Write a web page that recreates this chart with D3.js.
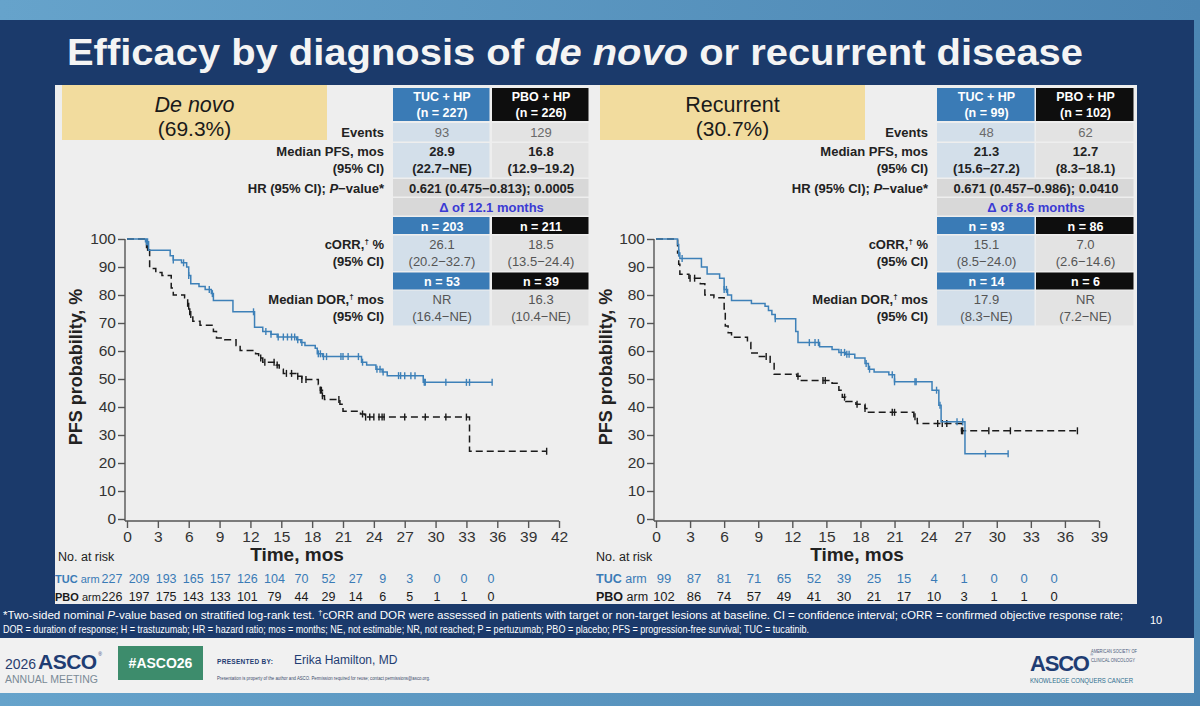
<!DOCTYPE html>
<html><head><meta charset="utf-8">
<script src="https://cdn.jsdelivr.net/npm/d3@7"></script>
<style>
body{margin:0;background:#fff;}
svg{display:block;font-family:"Liberation Sans",Arial,Helvetica,sans-serif;}
</style>
</head><body>
<svg id="c" width="1200" height="706"></svg>
<script>
// ---------------- DATA ----------------
const groupNames = ["De novo", "Recurrent"];
const groupShares = ["(69.3%)", "(30.7%)"];
const armLabels = ["TUC + HP", "PBO + HP"];
const armN = [["(n = 227)", "(n = 226)"], ["(n = 99)", "(n = 102)"]];
const events = [["93", "129"], ["48", "62"]];
const medianPFS = [["28.9", "16.8"], ["21.3", "12.7"]];
const medianPFSci = [["(22.7\u2212NE)", "(12.9\u221219.2)"], ["(15.6\u221227.2)", "(8.3\u221218.1)"]];
const hrText = ["0.621 (0.475\u22120.813); 0.0005", "0.671 (0.457\u22120.986); 0.0410"];
const deltaText = ["\u0394 of 12.1 months", "\u0394 of 8.6 months"];
const orrN = [["n = 203", "n = 211"], ["n = 93", "n = 86"]];
const corrVal = [["26.1", "18.5"], ["15.1", "7.0"]];
const corrCI = [["(20.2\u221232.7)", "(13.5\u221224.4)"], ["(8.5\u221224.0)", "(2.6\u221214.6)"]];
const dorN = [["n = 53", "n = 39"], ["n = 14", "n = 6"]];
const dorVal = [["NR", "16.3"], ["17.9", "NR"]];
const dorCI = [["(16.4\u2212NE)", "(10.4\u2212NE)"], ["(8.3\u2212NE)", "(7.2\u2212NE)"]];

const yTicks = [0, 10, 20, 30, 40, 50, 60, 70, 80, 90, 100];
const xTicksDeNovo = [0, 3, 6, 9, 12, 15, 18, 21, 24, 27, 30, 33, 36, 39, 42];
const xTicksRecurrent = [0, 3, 6, 9, 12, 15, 18, 21, 24, 27, 30, 33, 36, 39];

const riskDeNovoTUC = [227, 209, 193, 165, 157, 126, 104, 70, 52, 27, 9, 3, 0, 0, 0];
const riskDeNovoPBO = [226, 197, 175, 143, 133, 101, 79, 44, 29, 14, 6, 5, 1, 1, 0];
const riskRecTUC = [99, 87, 81, 71, 65, 52, 39, 25, 15, 4, 1, 0, 0, 0];
const riskRecPBO = [102, 86, 74, 57, 49, 41, 30, 21, 17, 10, 3, 1, 1, 0];

// KM steps: [month, PFS %]
const kmDeNovoTUC = [[0,100],[1.8,99],[2.1,96],[4.2,94],[4.5,92.5],[5.3,91.5],[5.8,90],[6.0,87],[6.2,84],[7.0,83],[7.6,82],[8.2,80.5],[8.4,78],[10.3,74],[12.4,68.5],[13.2,67],[14.0,66],[14.6,65],[16.5,64],[16.9,63],[17.3,62],[18.3,61],[18.5,59],[19.0,58],[22.8,56],[23.3,55],[24.2,53.5],[24.8,52.5],[25.3,51.2],[28.8,48.8]];
const kmDeNovoTUCEnd = 35.5;
const kmDeNovoPBO = [[0,100],[1.9,97],[2.2,89.5],[2.8,88],[3.4,87],[4.3,82.5],[4.5,80],[5.6,79],[5.9,76],[6.1,73],[6.4,70.6],[7.1,69.2],[8.4,67],[8.7,64.6],[9.5,64],[10.6,62],[11.0,60.2],[12.5,59],[12.8,57.5],[13.2,56],[14.5,55],[14.8,53.5],[15.2,52],[16.5,51],[17.0,49.8],[18.6,48],[18.8,46],[19.0,44],[19.2,42.7],[20.7,41],[21.0,38.5],[22.7,37.5],[23.1,36.4],[33.3,24.2]];
const kmDeNovoPBOEnd = 40.8;
const kmRecTUC = [[0,100],[1.9,98],[2.0,95],[2.1,93],[4.0,90],[4.5,87.5],[5.6,86],[6.0,82],[6.3,80],[6.65,78],[8.4,77],[9.6,76],[9.9,74.5],[10.2,73],[10.5,71.5],[12.3,67],[12.5,63],[14.4,61.5],[15.5,60.5],[16.1,59.5],[16.7,58.8],[17.5,57.5],[18.4,55.5],[18.7,53.5],[19.2,52.5],[20.5,51.5],[21.0,49],[24.3,46],[24.9,40.6],[25.1,34.7],[27.2,23.3]];
const kmRecTUCEnd = 31.0;
const kmRecPBO = [[0,100],[1.9,95],[2.0,91],[2.1,87.4],[2.9,86],[3.9,84],[4.3,80],[5.1,79],[6.0,75],[6.1,68.9],[6.35,66.5],[6.65,64.9],[8.05,63],[8.35,59.3],[9.1,58],[10.05,56],[10.4,51.7],[12.4,51],[12.7,49.5],[15.5,48.5],[16.1,46],[16.4,43.5],[16.7,42],[17.6,41],[18.4,39.5],[18.7,38.1],[22.7,36.5],[23.0,34.1],[26.9,31.5]];
const kmRecPBOEnd = 37.1;

// censor times (months)
const censDeNovoTUC = [1.9,2.0,4.5,5.5,6.0,8.0,8.3,12.3,13.5,14.0,14.7,15.2,15.6,16.0,16.3,16.6,17.0,18.6,18.8,19.1,19.4,20.8,21.0,21.5,22.5,22.9,24.3,24.6,24.9,26.4,26.6,27.0,27.6,28.0,28.9,29.0,31.0,33.0,33.3,35.5];
const censDeNovoPBO = [2.0,6.0,6.2,13.0,13.4,14.3,14.6,15.5,16.0,16.6,17.0,17.4,18.8,18.9,19.0,20.6,22.9,23.2,23.6,24.0,24.5,24.8,25.0,27.0,29.0,31.0,33.0,40.8];
const censRecTUC = [2.0,2.3,6.0,6.2,10.5,13.5,14.0,14.3,16.3,16.6,16.8,17.0,18.5,18.8,20.8,21.0,22.8,22.9,24.7,25.0,26.5,27.0,29.0,31.0];
const censRecPBO = [3.0,3.4,9.7,12.5,14.7,14.9,16.6,17.7,18.4,20.8,21.0,22.8,24.8,25.2,25.6,26.9,27.0,29.3,31.2,37.1];

const footLine1 = ["*Two-sided nominal ", "P", "-value based on stratified log-rank test. ", "\u2020", "cORR and DOR were assessed in patients with target or non-target lesions at baseline. CI = confidence interval; cORR = confirmed objective response rate;"];
const footLine2 = "DOR = duration of response; H = trastuzumab; HR = hazard ratio; mos = months; NE, not estimable; NR, not reached; P = pertuzumab; PBO = placebo; PFS = progression-free survival; TUC = tucatinib.";

// ---------------- STYLE ----------------
const C = {
  navy: "#1b3a6b", panel: "#eeeeee", tan: "#f2dc9e",
  blueHead: "#3a7bb6", blackHead: "#0e0e0e",
  tucCell: "#d3dfea", pboCell: "#e3e3e3", spanCell: "#d8d8d8",
  delta: "#3b3bd4", tucLine: "#3d80b8", pboLine: "#1a1a1a", text: "#222"
};

const svg = d3.select("#c");
const defs = svg.append("defs");
const g1 = defs.append("linearGradient").attr("id", "bg").attr("x1", 0).attr("x2", 1).attr("y1", 0).attr("y2", 0);
g1.append("stop").attr("offset", 0).attr("stop-color", "#66a3cb");
g1.append("stop").attr("offset", 1).attr("stop-color", "#4c86b3");
svg.append("rect").attr("width", 1200).attr("height", 706).attr("fill", "url(#bg)");
svg.append("rect").attr("x", 0).attr("y", 20).attr("width", 1194).attr("height", 673).attr("fill", C.navy);
svg.append("rect").attr("x", 0).attr("y", 638).attr("width", 1194).attr("height", 55).attr("fill", "#f1f1f1");

// title
const title = svg.append("text").attr("x", 67).attr("y", 65).attr("fill", "#f4f4f4")
  .attr("font-size", 36).attr("font-weight", "bold")
  .attr("textLength", 1016).attr("lengthAdjust", "spacingAndGlyphs");
title.append("tspan").text("Efficacy by diagnosis of ");
title.append("tspan").attr("font-style", "italic").text("de novo");
title.append("tspan").text(" or recurrent disease");

// content panel
svg.append("rect").attr("x", 55).attr("y", 85).attr("width", 1082).attr("height", 519).attr("fill", C.panel);

const panels = [
  { tanX: 62, tanW: 265, labelR: 384, c: [393, 492], colW: 98, xr: [127, 559], xTicks: xTicksDeNovo,
    km: [kmDeNovoTUC, kmDeNovoPBO], kmEnd: [kmDeNovoTUCEnd, kmDeNovoPBOEnd], cens: [censDeNovoTUC, censDeNovoPBO],
    risk: [riskDeNovoTUC, riskDeNovoPBO], riskR: [112, 491], riskLabelX: 55, labelSize: 11, noRiskX: 58, riskSize: 12.5, yLabX: 82, timeX: 297, italic: true },
  { tanX: 600, tanW: 265, labelR: 928, c: [937, 1036], colW: 99, xr: [656, 1099], xTicks: xTicksRecurrent,
    km: [kmRecTUC, kmRecPBO], kmEnd: [kmRecTUCEnd, kmRecPBOEnd], cens: [censRecTUC, censRecPBO],
    risk: [riskRecTUC, riskRecPBO], riskR: [664, 1054], riskLabelX: 596, labelSize: 12.5, noRiskX: 596, riskSize: 13, yLabX: 612, timeX: 857, italic: false }
];

function txt(sel, x, y, s, o = {}) {
  return sel.append("text").attr("x", x).attr("y", y).text(s)
    .attr("font-size", o.size || 13).attr("font-weight", o.weight || "normal")
    .attr("font-style", o.style || "normal").attr("fill", o.fill || C.text)
    .attr("text-anchor", o.anchor || "middle");
}
function survAt(steps, t) { let v = 100; for (const [tt, s] of steps) if (tt <= t) v = s; return v; }

panels.forEach((P, p) => {
  const g = svg.append("g");
  g.append("rect").attr("x", P.tanX).attr("y", 85).attr("width", P.tanW).attr("height", 55).attr("fill", C.tan);
  const tcx = P.tanX + P.tanW / 2;
  txt(g, tcx, 112, groupNames[p], { size: 21.5, style: P.italic ? "italic" : "normal", fill: "#1a1a1a" });
  txt(g, tcx, 136, groupShares[p], { size: 21, fill: "#1a1a1a" });

  const cx = [P.c[0] + P.colW / 2, P.c[1] + P.colW / 2];
  const cell = (col, y, h, fill) => g.append("rect").attr("x", P.c[col]).attr("y", y).attr("width", P.colW - 1.5).attr("height", h).attr("fill", fill);
  const span = (y, h, fill) => g.append("rect").attr("x", P.c[0]).attr("y", y).attr("width", P.c[1] + P.colW - 1.5 - P.c[0]).attr("height", h).attr("fill", fill);
  const headFill = [C.blueHead, C.blackHead];
  const cellFill = [C.tucCell, C.pboCell];

  [0, 1].forEach(k => {
    cell(k, 88, 33, headFill[k]);
    txt(g, cx[k], 101, armLabels[k], { size: 12.5, weight: "bold", fill: "#fff" });
    txt(g, cx[k], 117, armN[p][k], { size: 12.5, weight: "bold", fill: "#fff" });
    cell(k, 123, 18.5, cellFill[k]);
    txt(g, cx[k], 137, events[p][k], { size: 13, fill: "#6a6a6a" });
    cell(k, 143, 34.5, cellFill[k]);
    txt(g, cx[k], 156, medianPFS[p][k], { size: 13, weight: "bold" });
    txt(g, cx[k], 173, medianPFSci[p][k], { size: 13, weight: "bold" });
    cell(k, 217, 17, headFill[k]);
    txt(g, cx[k], 230.5, orrN[p][k], { size: 12.5, weight: "bold", fill: "#fff" });
    cell(k, 235.5, 35.5, cellFill[k]);
    txt(g, cx[k], 249, corrVal[p][k], { size: 13, fill: "#555" });
    txt(g, cx[k], 266, corrCI[p][k], { size: 13, fill: "#555" });
    cell(k, 272.5, 17, headFill[k]);
    txt(g, cx[k], 286, dorN[p][k], { size: 12.5, weight: "bold", fill: "#fff" });
    cell(k, 290.5, 35, cellFill[k]);
    txt(g, cx[k], 304, dorVal[p][k], { size: 13, fill: "#555" });
    txt(g, cx[k], 321, dorCI[p][k], { size: 13, fill: "#555" });
  });
  span(179, 17.5, C.spanCell);
  txt(g, (P.c[0] + P.c[1] + P.colW) / 2, 193, hrText[p], { size: 13, weight: "bold" });
  span(198, 17.5, C.spanCell);
  txt(g, (P.c[0] + P.c[1] + P.colW) / 2, 212, deltaText[p], { size: 13, weight: "bold", fill: C.delta });

  const L = (y, s) => txt(g, P.labelR, y, s, { size: 13, weight: "bold", anchor: "end" });
  L(137, "Events"); L(156, "Median PFS, mos"); L(173, "(95% CI)");
  const hr = L(193, "");
  hr.append("tspan").text("HR (95% CI); ");
  hr.append("tspan").attr("font-style", "italic").text("P");
  hr.append("tspan").text("\u2212value*");
  const co = L(249, "");
  co.append("tspan").text("cORR,");
  co.append("tspan").attr("font-size", 8).attr("dy", -5).text("\u2020");
  co.append("tspan").attr("dy", 5).text(" %");
  L(266, "(95% CI)");
  const dl = L(304, "");
  dl.append("tspan").text("Median DOR,");
  dl.append("tspan").attr("font-size", 8).attr("dy", -5).text("\u2020");
  dl.append("tspan").attr("dy", 5).text(" mos");
  L(321, "(95% CI)");

  // chart
  const x = d3.scaleLinear().domain([0, P.xTicks[P.xTicks.length - 1]]).range(P.xr);
  const y = d3.scaleLinear().domain([0, 100]).range([519, 239]);
  const ya = g.append("g").attr("transform", `translate(${P.xr[0] - 2},0)`)
    .call(d3.axisLeft(y).tickValues(yTicks).tickSize(7).tickSizeOuter(0).tickPadding(2));
  const xa = g.append("g").attr("transform", `translate(0,${521})`)
    .call(d3.axisBottom(x).tickValues(P.xTicks).tickSize(7).tickSizeOuter(0).tickPadding(3));
  [ya, xa].forEach(a => {
    a.select(".domain").attr("stroke", "#555").attr("stroke-width", 1.4);
    a.selectAll(".tick line").attr("stroke", "#555").attr("stroke-width", 1.4);
    a.selectAll(".tick text").attr("font-size", 15.5).attr("fill", "#333").attr("font-family", "Liberation Sans, Arial, sans-serif");
  });
  ya.select(".domain").attr("d", `M0,${y(100)}V${521}`);
  xa.select(".domain").attr("d", `M${P.xr[0] - 2},0H${P.xr[1]}`);

  g.append("text").attr("transform", `translate(${P.yLabX},367) rotate(-90)`).attr("text-anchor", "middle")
    .attr("font-size", 18).attr("font-weight", "bold").attr("fill", C.text).text("PFS probability, %");
  txt(g, P.timeX, 561, "Time, mos", { size: 19, weight: "bold" });

  const line = d3.line().x(d => x(d[0])).y(d => y(d[1])).curve(d3.curveStepAfter);
  const colors = [C.tucLine, C.pboLine];
  [1, 0].forEach(k => {
    const steps = P.km[k];
    const pts = steps.concat([[P.kmEnd[k], steps[steps.length - 1][1]]]);
    g.append("path").attr("d", line(pts)).attr("fill", "none").attr("stroke", colors[k])
      .attr("stroke-width", 1.5).attr("stroke-dasharray", k === 1 ? "7,4" : null);
    g.selectAll(null).data(P.cens[k]).enter().append("line")
      .attr("x1", d => x(d)).attr("x2", d => x(d))
      .attr("y1", d => y(survAt(steps, d)) - 3.5).attr("y2", d => y(survAt(steps, d)) + 3.5)
      .attr("stroke", colors[k]).attr("stroke-width", 1.4);
  });

  // at-risk table
  txt(g, P.noRiskX, 561, "No. at risk", { size: 12.5, anchor: "start", fill: "#222" });
  const rx = d3.scalePoint().domain(d3.range(P.risk[0].length)).range(P.riskR);
  const rowY = [582.5, 601];
  const rowFill = [C.blueHead, "#1a1a1a"];
  const rowName = ["TUC", "PBO"];
  [0, 1].forEach(k => {
    const t = txt(g, P.riskLabelX, rowY[k], "", { size: P.labelSize, anchor: "start", fill: rowFill[k] });
    t.append("tspan").attr("font-weight", "bold").text(rowName[k]);
    t.append("tspan").text(" arm");
    g.selectAll(null).data(P.risk[k]).enter().append("text")
      .attr("x", (d, i) => rx(i)).attr("y", rowY[k]).attr("text-anchor", "middle")
      .attr("font-size", P.riskSize).attr("fill", rowFill[k]).text(d => d);
  });
});

// footnotes
const f1 = svg.append("text").attr("x", 3).attr("y", 619).attr("fill", "#fff").attr("font-size", 11.5)
  .attr("textLength", 1120).attr("lengthAdjust", "spacingAndGlyphs");
f1.append("tspan").text(footLine1[0]);
f1.append("tspan").attr("font-style", "italic").text(footLine1[1]);
f1.append("tspan").text(footLine1[2]);
f1.append("tspan").attr("font-size", 8).attr("dy", -4).text(footLine1[3]);
f1.append("tspan").attr("dy", 4).text(footLine1[4]);
svg.append("text").attr("x", 3).attr("y", 633).attr("fill", "#fff").attr("font-size", 11.5)
  .attr("textLength", 806).attr("lengthAdjust", "spacingAndGlyphs").text(footLine2);
svg.append("text").attr("x", 1150).attr("y", 624).attr("fill", "#fff").attr("font-size", 11).text("10");

// footer
const ft = svg.append("g");
ft.append("text").attr("x", 5).attr("y", 669).attr("font-size", 14).attr("fill", "#2a3d6e").text("2026");
const la = ft.append("text").attr("x", 38).attr("y", 669).attr("font-size", 21).attr("font-weight", "bold")
  .attr("fill", "#1f3d73").attr("letter-spacing", -0.5);
la.append("tspan").text("ASCO");
la.append("tspan").attr("font-size", 5).attr("font-weight", "normal").attr("dy", -13).attr("dx", 1.5).text("\u00ae");
ft.append("text").attr("x", 5).attr("y", 683).attr("font-size", 10.5).attr("fill", "#7a8a96")
  .attr("textLength", 93).attr("lengthAdjust", "spacingAndGlyphs").text("ANNUAL MEETING");
ft.append("rect").attr("x", 118).attr("y", 646).attr("width", 85).attr("height", 34).attr("fill", "#3d8c6c");
ft.append("text").attr("x", 160.5).attr("y", 668).attr("text-anchor", "middle").attr("font-size", 14).attr("font-weight", "bold").attr("fill", "#fff").text("#ASCO26");
ft.append("text").attr("x", 217).attr("y", 664).attr("font-size", 6.5).attr("font-weight", "bold").attr("fill", "#1f3d73").attr("letter-spacing", 0.3).text("PRESENTED BY:");
ft.append("text").attr("x", 294).attr("y", 664).attr("font-size", 12).attr("fill", "#1f3d73").text("Erika Hamilton, MD");
ft.append("text").attr("x", 217).attr("y", 680).attr("font-size", 5.5).attr("fill", "#3a4a6a")
  .attr("textLength", 213).attr("lengthAdjust", "spacingAndGlyphs")
  .text("Presentation is property of the author and ASCO. Permission required for reuse; contact permissions@asco.org.");
const ra = ft.append("text").attr("x", 1030).attr("y", 671).attr("font-size", 22).attr("font-weight", "bold")
  .attr("fill", "#1f3d73").attr("letter-spacing", -1.2);
ra.append("tspan").text("ASCO");
ra.append("tspan").attr("font-size", 4).attr("font-weight", "normal").attr("dy", -15).attr("dx", 1.5).text("\u00ae");
ft.append("text").attr("x", 1091).attr("y", 653).attr("font-size", 5).attr("fill", "#4a5a7a")
  .attr("textLength", 46).attr("lengthAdjust", "spacingAndGlyphs").text("AMERICAN SOCIETY OF");
ft.append("text").attr("x", 1091).attr("y", 662).attr("font-size", 5).attr("fill", "#4a5a7a")
  .attr("textLength", 44).attr("lengthAdjust", "spacingAndGlyphs").text("CLINICAL ONCOLOGY");
ft.append("text").attr("x", 1030).attr("y", 683).attr("font-size", 7).attr("fill", "#2e6f8e")
  .attr("textLength", 103).attr("lengthAdjust", "spacingAndGlyphs").text("KNOWLEDGE CONQUERS CANCER");
</script>
</body></html>
